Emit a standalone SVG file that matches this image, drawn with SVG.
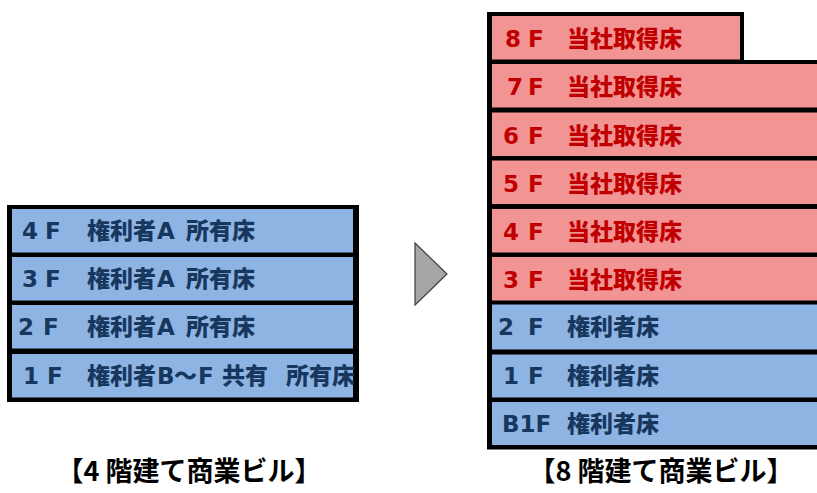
<svg xmlns="http://www.w3.org/2000/svg" width="817" height="493" viewBox="0 0 817 493">
<style>
text{font-family:"DejaVu Sans","Noto Sans CJK JP",sans-serif;font-weight:700}
.frame{fill:#000}
.blue{fill:#8DB4E2}
.red{fill:#F29494}
.bt{fill:#17375E;font-size:23px}
.rt{fill:#C00000;font-size:23px}
.j{font-family:"Noto Sans CJK JP",sans-serif;font-weight:900}
.cap{fill:#000;font-size:27px;text-anchor:middle;font-family:"Noto Sans CJK JP",sans-serif;font-weight:700}
</style>
<g id="building-4f">
<rect class="frame" x="7" y="205" width="352" height="197"/>
<g id="b4-4f"><rect class="blue" x="12" y="209" width="341" height="43.5"/>
<text class="bt" y="239"><tspan x="22">4</tspan><tspan x="45">F</tspan><tspan class="j" x="87">権利者</tspan><tspan x="157">A</tspan><tspan class="j" x="186">所有床</tspan></text></g>
<g id="b4-3f"><rect class="blue" x="12" y="257" width="341" height="43.5"/>
<text class="bt" y="287"><tspan x="22">3</tspan><tspan x="45">F</tspan><tspan class="j" x="87">権利者</tspan><tspan x="157">A</tspan><tspan class="j" x="186">所有床</tspan></text></g>
<g id="b4-2f"><rect class="blue" x="12" y="305" width="341" height="43.5"/>
<text class="bt" y="335"><tspan x="18">2</tspan><tspan x="43">F</tspan><tspan class="j" x="87">権利者</tspan><tspan x="157">A</tspan><tspan class="j" x="186">所有床</tspan></text></g>
<g id="b4-1f"><rect class="blue" x="12" y="354" width="341" height="43.5"/>
<text class="bt" y="384"><tspan x="23">1</tspan><tspan x="47">F</tspan><tspan class="j" x="87">権利者</tspan><tspan x="157">B</tspan><tspan class="j" x="174">～</tspan><tspan x="198">F</tspan><tspan class="j" x="222">共有</tspan><tspan class="j" x="286">所有床</tspan></text></g>
</g>
<g id="arrow">
<polygon points="415,243 447,274 415,305" fill="#A6A6A6" stroke="#404040" stroke-width="1.2"/>
</g>
<g id="building-8f">
<path class="frame" d="M487,12 H744 V60 H830 V449.5 H487 Z"/>
<g id="b8-8f"><rect class="red" x="492" y="16" width="248" height="43.5"/>
<text class="rt" y="47"><tspan x="505">8</tspan><tspan x="528">F</tspan><tspan class="j" x="567">当社取得床</tspan></text></g>
<g id="b8-7f"><rect class="red" x="492" y="64" width="340" height="43.5"/>
<text class="rt" y="95"><tspan x="507">7</tspan><tspan x="528">F</tspan><tspan class="j" x="567">当社取得床</tspan></text></g>
<g id="b8-6f"><rect class="red" x="492" y="112.5" width="340" height="43.5"/>
<text class="rt" y="143.5"><tspan x="503">6</tspan><tspan x="528">F</tspan><tspan class="j" x="567">当社取得床</tspan></text></g>
<g id="b8-5f"><rect class="red" x="492" y="160.5" width="340" height="43.5"/>
<text class="rt" y="191.5"><tspan x="503">5</tspan><tspan x="528">F</tspan><tspan class="j" x="567">当社取得床</tspan></text></g>
<g id="b8-4f"><rect class="red" x="492" y="209" width="340" height="43.5"/>
<text class="rt" y="240"><tspan x="503">4</tspan><tspan x="528">F</tspan><tspan class="j" x="567">当社取得床</tspan></text></g>
<g id="b8-3f"><rect class="red" x="492" y="257" width="340" height="43.5"/>
<text class="rt" y="288"><tspan x="503">3</tspan><tspan x="528">F</tspan><tspan class="j" x="567">当社取得床</tspan></text></g>
<g id="b8-2f"><rect class="blue" x="492" y="304.5" width="340" height="45"/>
<text class="bt" y="335"><tspan x="498">2</tspan><tspan x="528">F</tspan><tspan class="j" x="567">権利者床</tspan></text></g>
<g id="b8-1f"><rect class="blue" x="492" y="354.5" width="340" height="43"/>
<text class="bt" y="384"><tspan x="503">1</tspan><tspan x="528">F</tspan><tspan class="j" x="567">権利者床</tspan></text></g>
<g id="b8-b1f"><rect class="blue" x="492" y="402" width="340" height="43"/>
<text class="bt" y="432"><tspan x="502">B1F</tspan><tspan class="j" x="567">権利者床</tspan></text></g>
</g>
<g id="captions">
<text class="cap" x="189" y="481">【4 階建て商業ビル】</text>
<text class="cap" x="661" y="481">【8 階建て商業ビル】</text>
</g>
</svg>
